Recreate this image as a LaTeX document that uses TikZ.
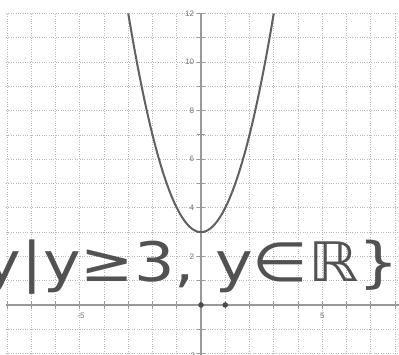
\documentclass[tikz,border=0pt]{standalone}
\usepackage{fontspec}
\newfontfamily\handfont{DejaVu Sans}
\newfontfamily\labfont{Liberation Sans}
\begin{document}
\begin{tikzpicture}[x=0.485cm,y=0.486cm,
  gridline/.style={gray!55,line width=0.35pt,densely dotted},
  axisline/.style={gray!80,line width=0.6pt},
  tickmark/.style={gray!80,line width=0.5pt},
  curve/.style={black!62,line width=1.15pt},
  ptdot/.style={circle,fill=black!70,inner sep=0pt,minimum size=3.2pt},
  ticklab/.style={font=\labfont\fontsize{4.5}{4.5}\selectfont,text=black!55,inner sep=0.5pt},
  handtext/.style={font=\handfont\fontsize{31}{31}\selectfont,text=black!68,inner sep=0pt}]
\useasboundingbox (-8.289,-2.058) rectangle (8.165,12.551);
\fill[white] (-8.289,-2.058) rectangle (8.165,12.551);
\clip (-8.289,-2.058) rectangle (8.165,12.551);
% grid
\foreach \gx in {-8,...,8} \draw[gridline] (\gx,-2.1) -- (\gx,12);
\foreach \gy in {-2,...,12} \draw[gridline] (-8.04,\gy) -- (8.2,\gy);
% axes
\coordinate (xl) at (-8.04,0);
\coordinate (xr) at (8.2,0);
\coordinate (yt) at (0,12);
\coordinate (yb) at (0,-2.1);
\draw[axisline] (xl) -- (xr);
\draw[axisline] (yt) -- (yb);
\foreach \gx in {-8,...,8} \draw[tickmark] (\gx,-0.15) -- (\gx,0.15);
\foreach \gy in {-2,...,12} \draw[tickmark] (-0.17,\gy) -- (0.17,\gy);
% tick labels
\node[ticklab,anchor=east] (l12) at (-0.24,12) {12};
\node[ticklab,anchor=east] (l10) at (-0.24,10) {10};
\node[ticklab,anchor=east] (l8) at (-0.24,8) {8};
\node[ticklab,anchor=east] (l6) at (-0.24,6) {6};
\node[ticklab,anchor=east] (l4) at (-0.24,4) {4};
\node[ticklab,anchor=east] (l2) at (-0.24,2) {2};
\node[ticklab,anchor=north east] (lm2) at (-0.2,-1.93) {-2};
\node[ticklab] (lxm5) at (-4.95,-0.45) {-5};
\node[ticklab] (lx5) at (5,-0.45) {5};
% parabola y = x^2 + 3
\draw[curve] plot[domain=-3:3,samples=80,smooth] (\x,{\x*\x+3});
% points
\node[ptdot] (p0) at (0,0) {};
\node[ptdot] (p1) at (1,0) {};
% handwritten set
\node[handtext,anchor=base west,xscale=1.17] (settext) at (-8.97,0.95) {y|y≥3, y∈ℝ\}};
\end{tikzpicture}
\end{document}
